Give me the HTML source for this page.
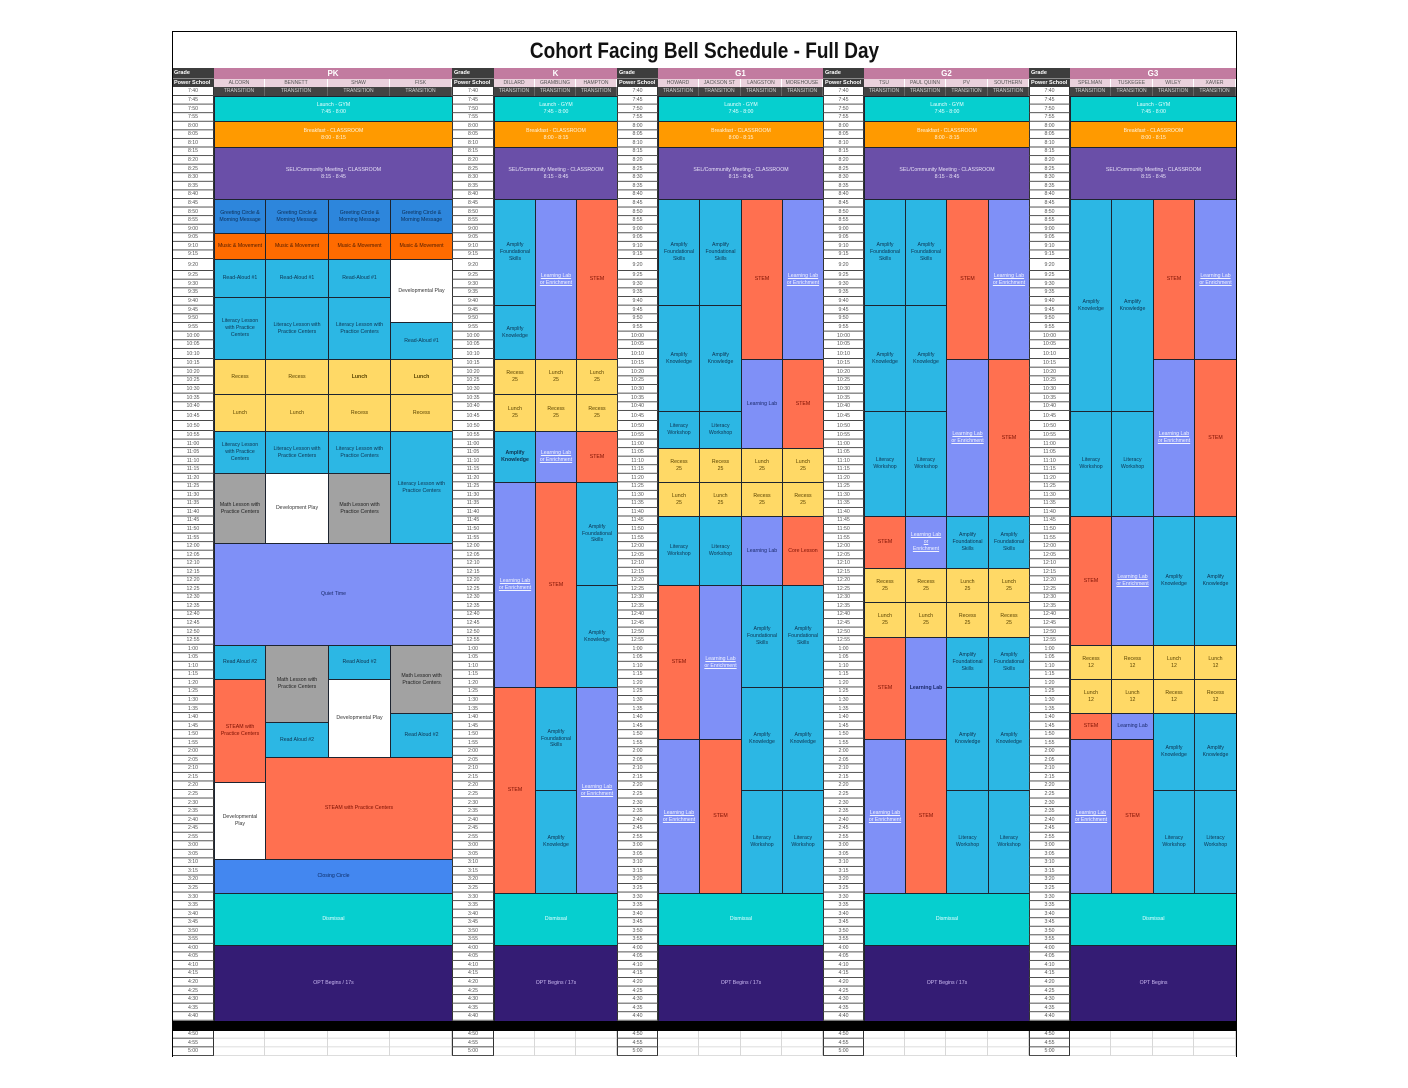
<!DOCTYPE html>
<html><head><meta charset="utf-8">
<style>
body{margin:0;background:#fff;font-family:"Liberation Sans",sans-serif}
#c{position:relative;width:1408px;height:1088px;overflow:hidden;background:#fff}
#c div{position:absolute;box-sizing:border-box}
.b{border:1px solid #1d2430;display:flex;align-items:center;justify-content:center;text-align:center;font-size:5.2px;line-height:1.3;padding:0 3px;overflow:hidden}
.cy{background:#06cfcf;color:#eaffff}
.or{background:#ff9a00;color:#fff4e0}
.pu{background:#6a4fa8;color:#e8e2f6}
.gb{background:#2d86dc;color:#0c2d55}
.mm{background:#ff6b00;color:#4a1a00}
.sb{background:#2cb7e4;color:#0e3350}
.ye{background:#ffd966;color:#5a4300}
.gr{background:#a2a2a2;color:#222}
.wh{background:#fff;color:#333}
.pw{background:#7f90f7;color:#1b2a6b}
.ll{color:#f2f4ff;text-decoration:underline}
.st{background:#ff7050;color:#7a0f00}
.cc{background:#4387f0;color:#0d2d66}
.op{background:#341c74;color:#c9b8f0}
.bd{font-weight:bold}
.nw{white-space:nowrap;padding:0}
.tc{top:0;height:1088px}
.tc>div{left:0;width:100%}
.gh{top:67.5px;height:11px;background:#3d3d3d;color:#fff;font-weight:bold;font-size:5.5px;line-height:10px;padding-left:2px;border-bottom:1px solid #8a8a8a}
.ph{top:78.5px;height:8.5px;background:#3d3d3d;color:#fff;font-weight:bold;font-size:5.5px;line-height:8.5px;padding-left:2px}
.tb{top:87px;height:969px;background:#fff;border-left:1px solid #333;border-right:1px solid #333}
.s{font-size:5.2px;color:#555;text-align:center;line-height:var(--h);background-image:linear-gradient(to bottom,transparent calc(100% - 1px),#4a4a4a calc(100% - 1px));background-size:100% var(--h)}
.gband{top:67.5px;height:11px;background:#c27ba0;color:#fff;font-weight:bold;font-size:8px;line-height:11px;text-align:center}
.cn{top:78.5px;height:8.5px;background:#ead1dc;color:#555;font-size:5px;line-height:8.5px;text-align:center;border-right:1px solid #fff;white-space:nowrap;overflow:hidden}
.trn{top:87px;height:9px;background:#434343;color:#d0d0d0;font-size:5px;line-height:9px;text-align:center;border-right:1px solid #666;white-space:nowrap;overflow:hidden}
.e{top:1030px;height:26px;border-right:1px solid #d8d8d8;background-image:linear-gradient(to bottom,transparent calc(100% - 1px),#dcdcdc calc(100% - 1px));background-size:100% 8.6667px}
</style></head><body>
<div id="c">

<div style="left:172px;top:40px;width:1065px;height:22px;font-size:22px;line-height:22px;font-weight:bold;text-align:center;color:#111;transform:scaleX(0.863);transform-origin:50% 50%;white-space:nowrap">Cohort Facing Bell Schedule - Full Day</div>

<!-- grade bands -->
<div class="gband" style="left:214px;width:238px">PK</div>
<div class="gband" style="left:494px;width:123px">K</div>
<div class="gband" style="left:658px;width:165px">G1</div>
<div class="gband" style="left:864px;width:165px">G2</div>
<div class="gband" style="left:1070px;width:166px">G3</div>

<!-- class names -->
<div class="cn" style="left:214px;width:51px">ALCORN</div>
<div class="cn" style="left:265px;width:63px">BENNETT</div>
<div class="cn" style="left:328px;width:62px">SHAW</div>
<div class="cn" style="left:390px;width:62px">FISK</div>
<div class="cn" style="left:494px;width:41px">DILLARD</div>
<div class="cn" style="left:535px;width:41px">GRAMBLING</div>
<div class="cn" style="left:576px;width:41px">HAMPTON</div>
<div class="cn" style="left:658px;width:41px">HOWARD</div>
<div class="cn" style="left:699px;width:42px">JACKSON ST</div>
<div class="cn" style="left:741px;width:41px">LANGSTON</div>
<div class="cn" style="left:782px;width:41px">MOREHOUSE</div>
<div class="cn" style="left:864px;width:41px">TSU</div>
<div class="cn" style="left:905px;width:41px">PAUL QUINN</div>
<div class="cn" style="left:946px;width:42px">PV</div>
<div class="cn" style="left:988px;width:41px">SOUTHERN</div>
<div class="cn" style="left:1070px;width:41px">SPELMAN</div>
<div class="cn" style="left:1111px;width:42px">TUSKEGEE</div>
<div class="cn" style="left:1153px;width:41px">WILEY</div>
<div class="cn" style="left:1194px;width:42px">XAVIER</div>

<!-- transition row -->
<div class="trn" style="left:214px;width:51px">TRANSITION</div>
<div class="trn" style="left:265px;width:63px">TRANSITION</div>
<div class="trn" style="left:328px;width:62px">TRANSITION</div>
<div class="trn" style="left:390px;width:62px">TRANSITION</div>
<div class="trn" style="left:494px;width:41px">TRANSITION</div>
<div class="trn" style="left:535px;width:41px">TRANSITION</div>
<div class="trn" style="left:576px;width:41px">TRANSITION</div>
<div class="trn" style="left:658px;width:41px">TRANSITION</div>
<div class="trn" style="left:699px;width:42px">TRANSITION</div>
<div class="trn" style="left:741px;width:41px">TRANSITION</div>
<div class="trn" style="left:782px;width:41px">TRANSITION</div>
<div class="trn" style="left:864px;width:41px">TRANSITION</div>
<div class="trn" style="left:905px;width:41px">TRANSITION</div>
<div class="trn" style="left:946px;width:42px">TRANSITION</div>
<div class="trn" style="left:988px;width:41px">TRANSITION</div>
<div class="trn" style="left:1070px;width:41px">TRANSITION</div>
<div class="trn" style="left:1111px;width:42px">TRANSITION</div>
<div class="trn" style="left:1153px;width:41px">TRANSITION</div>
<div class="trn" style="left:1194px;width:42px">TRANSITION</div>

<!-- shared blocks -->
<div class="b cy" style="left:214px;top:96px;width:239px;height:26px">Launch - GYM<br>7:45 - 8:00</div>
<div class="b or" style="left:214px;top:121px;width:239px;height:27px">Breakfast - CLASSROOM<br>8:00 - 8:15</div>
<div class="b pu" style="left:214px;top:147px;width:239px;height:53px">SEL/Community Meeting - CLASSROOM<br>8:15 - 8:45</div>
<div class="b cy" style="left:214px;top:893px;width:239px;height:53px">Dismissal</div>
<div class="b op" style="left:214px;top:945px;width:239px;height:77px">OPT Begins / 17s</div>

<div class="b cy" style="left:494px;top:96px;width:124px;height:26px">Launch - GYM<br>7:45 - 8:00</div>
<div class="b or" style="left:494px;top:121px;width:124px;height:27px">Breakfast - CLASSROOM<br>8:00 - 8:15</div>
<div class="b pu" style="left:494px;top:147px;width:124px;height:53px">SEL/Community Meeting - CLASSROOM<br>8:15 - 8:45</div>
<div class="b cy" style="left:494px;top:893px;width:124px;height:53px">Dismissal</div>
<div class="b op" style="left:494px;top:945px;width:124px;height:77px">OPT Begins / 17s</div>

<div class="b cy" style="left:658px;top:96px;width:166px;height:26px">Launch - GYM<br>7:45 - 8:00</div>
<div class="b or" style="left:658px;top:121px;width:166px;height:27px">Breakfast - CLASSROOM<br>8:00 - 8:15</div>
<div class="b pu" style="left:658px;top:147px;width:166px;height:53px">SEL/Community Meeting - CLASSROOM<br>8:15 - 8:45</div>
<div class="b cy" style="left:658px;top:893px;width:166px;height:53px">Dismissal</div>
<div class="b op" style="left:658px;top:945px;width:166px;height:77px">OPT Begins / 17s</div>

<div class="b cy" style="left:864px;top:96px;width:166px;height:26px">Launch - GYM<br>7:45 - 8:00</div>
<div class="b or" style="left:864px;top:121px;width:166px;height:27px">Breakfast - CLASSROOM<br>8:00 - 8:15</div>
<div class="b pu" style="left:864px;top:147px;width:166px;height:53px">SEL/Community Meeting - CLASSROOM<br>8:15 - 8:45</div>
<div class="b cy" style="left:864px;top:893px;width:166px;height:53px">Dismissal</div>
<div class="b op" style="left:864px;top:945px;width:166px;height:77px">OPT Begins / 17s</div>

<div class="b cy" style="left:1070px;top:96px;width:167px;height:26px">Launch - GYM<br>7:45 - 8:00</div>
<div class="b or" style="left:1070px;top:121px;width:167px;height:27px">Breakfast - CLASSROOM<br>8:00 - 8:15</div>
<div class="b pu" style="left:1070px;top:147px;width:167px;height:53px">SEL/Community Meeting - CLASSROOM<br>8:15 - 8:45</div>
<div class="b cy" style="left:1070px;top:893px;width:167px;height:53px">Dismissal</div>
<div class="b op" style="left:1070px;top:945px;width:167px;height:77px">OPT Begins</div>

<!-- PK -->
<div class="b gb" style="left:214px;top:199px;width:52px;height:35px">Greeting Circle &amp;<br>Morning Message</div>
<div class="b mm nw" style="left:214px;top:233px;width:52px;height:27px">Music &amp; Movement</div>
<div class="b sb" style="left:214px;top:259px;width:52px;height:39px">Read-Aloud #1</div>
<div class="b sb" style="left:214px;top:297px;width:52px;height:63px">Literacy Lesson<br>with Practice<br>Centers</div>
<div class="b ye" style="left:214px;top:359px;width:52px;height:36px">Recess</div>
<div class="b ye" style="left:214px;top:394px;width:52px;height:38px">Lunch</div>
<div class="b sb" style="left:214px;top:431px;width:52px;height:43px">Literacy Lesson<br>with Practice<br>Centers</div>
<div class="b gr" style="left:214px;top:473px;width:52px;height:71px">Math Lesson with Practice Centers</div>
<div class="b sb" style="left:214px;top:645px;width:52px;height:35px">Read Aloud #2</div>
<div class="b st" style="left:214px;top:679px;width:52px;height:104px">STEAM with<br>Practice Centers</div>
<div class="b wh" style="left:214px;top:782px;width:52px;height:78px">Developmental<br>Play</div>

<div class="b gb" style="left:265px;top:199px;width:64px;height:35px">Greeting Circle &amp;<br>Morning Message</div>
<div class="b mm" style="left:265px;top:233px;width:64px;height:27px">Music &amp; Movement</div>
<div class="b sb" style="left:265px;top:259px;width:64px;height:39px">Read-Aloud #1</div>
<div class="b sb" style="left:265px;top:297px;width:64px;height:63px">Literacy Lesson with<br>Practice Centers</div>
<div class="b ye" style="left:265px;top:359px;width:64px;height:36px">Recess</div>
<div class="b ye" style="left:265px;top:394px;width:64px;height:38px">Lunch</div>
<div class="b sb" style="left:265px;top:431px;width:64px;height:43px">Literacy Lesson with<br>Practice Centers</div>
<div class="b wh" style="left:265px;top:473px;width:64px;height:71px">Development Play</div>
<div class="b gr" style="left:265px;top:645px;width:64px;height:78px">Math Lesson with<br>Practice Centers</div>
<div class="b sb" style="left:265px;top:722px;width:64px;height:36px">Read Aloud #2</div>

<div class="b gb" style="left:328px;top:199px;width:63px;height:35px">Greeting Circle &amp;<br>Morning Message</div>
<div class="b mm" style="left:328px;top:233px;width:63px;height:27px">Music &amp; Movement</div>
<div class="b sb" style="left:328px;top:259px;width:63px;height:39px">Read-Aloud #1</div>
<div class="b sb" style="left:328px;top:297px;width:63px;height:63px">Literacy Lesson with<br>Practice Centers</div>
<div class="b ye bd" style="left:328px;top:359px;width:63px;height:36px">Lunch</div>
<div class="b ye" style="left:328px;top:394px;width:63px;height:38px">Recess</div>
<div class="b sb" style="left:328px;top:431px;width:63px;height:43px">Literacy Lesson with<br>Practice Centers</div>
<div class="b gr" style="left:328px;top:473px;width:63px;height:71px">Math Lesson with<br>Practice Centers</div>
<div class="b sb" style="left:328px;top:645px;width:63px;height:35px">Read Aloud #2</div>
<div class="b wh" style="left:328px;top:679px;width:63px;height:79px">Developmental Play</div>

<div class="b gb" style="left:390px;top:199px;width:63px;height:35px">Greeting Circle &amp;<br>Morning Message</div>
<div class="b mm" style="left:390px;top:233px;width:63px;height:27px">Music &amp; Movement</div>
<div class="b wh" style="left:390px;top:259px;width:63px;height:64px">Developmental Play</div>
<div class="b sb" style="left:390px;top:322px;width:63px;height:38px">Read-Aloud #1</div>
<div class="b ye bd" style="left:390px;top:359px;width:63px;height:36px">Lunch</div>
<div class="b ye" style="left:390px;top:394px;width:63px;height:38px">Recess</div>
<div class="b sb" style="left:390px;top:431px;width:63px;height:113px">Literacy Lesson with<br>Practice Centers</div>
<div class="b gr" style="left:390px;top:645px;width:63px;height:69px">Math Lesson with<br>Practice Centers</div>
<div class="b sb" style="left:390px;top:713px;width:63px;height:45px">Read Aloud #2</div>

<div class="b pw" style="left:214px;top:543px;width:239px;height:103px">Quiet Time</div>
<div class="b st" style="left:265px;top:757px;width:188px;height:103px">STEAM with Practice Centers</div>
<div class="b cc" style="left:214px;top:859px;width:239px;height:35px">Closing Circle</div>

<!-- K -->
<div class="b sb" style="left:494px;top:199px;width:42px;height:107px">Amplify Foundational Skills</div>
<div class="b sb" style="left:494px;top:305px;width:42px;height:55px">Amplify Knowledge</div>
<div class="b ye" style="left:494px;top:359px;width:42px;height:36px">Recess<br>25</div>
<div class="b ye" style="left:494px;top:394px;width:42px;height:38px">Lunch<br>25</div>
<div class="b sb bd" style="left:494px;top:431px;width:42px;height:52px">Amplify Knowledge</div>
<div class="b pw" style="left:494px;top:482px;width:42px;height:206px"><span class="ll">Learning Lab<br>or Enrichment</span></div>
<div class="b st" style="left:494px;top:687px;width:42px;height:207px">STEM</div>

<div class="b pw" style="left:535px;top:199px;width:42px;height:161px"><span class="ll">Learning Lab<br>or Enrichment</span></div>
<div class="b ye" style="left:535px;top:359px;width:42px;height:36px">Lunch<br>25</div>
<div class="b ye" style="left:535px;top:394px;width:42px;height:38px">Recess<br>25</div>
<div class="b pw" style="left:535px;top:431px;width:42px;height:52px"><span class="ll">Learning Lab<br>or Enrichment</span></div>
<div class="b st" style="left:535px;top:482px;width:42px;height:206px">STEM</div>
<div class="b sb" style="left:535px;top:687px;width:42px;height:104px">Amplify Foundational Skills</div>
<div class="b sb" style="left:535px;top:790px;width:42px;height:104px">Amplify Knowledge</div>

<div class="b st" style="left:576px;top:199px;width:42px;height:161px">STEM</div>
<div class="b ye" style="left:576px;top:359px;width:42px;height:36px">Lunch<br>25</div>
<div class="b ye" style="left:576px;top:394px;width:42px;height:38px">Recess<br>25</div>
<div class="b st" style="left:576px;top:431px;width:42px;height:52px">STEM</div>
<div class="b sb" style="left:576px;top:482px;width:42px;height:104px">Amplify Foundational Skills</div>
<div class="b sb" style="left:576px;top:585px;width:42px;height:103px">Amplify Knowledge</div>
<div class="b pw" style="left:576px;top:687px;width:42px;height:207px"><span class="ll">Learning Lab<br>or Enrichment</span></div>

<!-- G1 -->
<div class="b sb" style="left:658px;top:199px;width:42px;height:107px">Amplify Foundational Skills</div>
<div class="b sb" style="left:658px;top:305px;width:42px;height:107px">Amplify Knowledge</div>
<div class="b sb" style="left:658px;top:411px;width:42px;height:38px">Literacy Workshop</div>
<div class="b ye" style="left:658px;top:448px;width:42px;height:35px">Recess<br>25</div>
<div class="b ye" style="left:658px;top:482px;width:42px;height:35px">Lunch<br>25</div>
<div class="b sb" style="left:658px;top:516px;width:42px;height:70px">Literacy Workshop</div>
<div class="b st" style="left:658px;top:585px;width:42px;height:155px">STEM</div>
<div class="b pw" style="left:658px;top:739px;width:42px;height:155px"><span class="ll">Learning Lab<br>or Enrichment</span></div>

<div class="b sb" style="left:699px;top:199px;width:43px;height:107px">Amplify Foundational Skills</div>
<div class="b sb" style="left:699px;top:305px;width:43px;height:107px">Amplify Knowledge</div>
<div class="b sb" style="left:699px;top:411px;width:43px;height:38px">Literacy Workshop</div>
<div class="b ye" style="left:699px;top:448px;width:43px;height:35px">Recess<br>25</div>
<div class="b ye" style="left:699px;top:482px;width:43px;height:35px">Lunch<br>25</div>
<div class="b sb" style="left:699px;top:516px;width:43px;height:70px">Literacy Workshop</div>
<div class="b pw" style="left:699px;top:585px;width:43px;height:155px"><span class="ll">Learning Lab<br>or Enrichment</span></div>
<div class="b st" style="left:699px;top:739px;width:43px;height:155px">STEM</div>

<div class="b st" style="left:741px;top:199px;width:42px;height:161px">STEM</div>
<div class="b pw" style="left:741px;top:359px;width:42px;height:90px">Learning Lab</div>
<div class="b ye" style="left:741px;top:448px;width:42px;height:35px">Lunch<br>25</div>
<div class="b ye" style="left:741px;top:482px;width:42px;height:35px">Recess<br>25</div>
<div class="b pw" style="left:741px;top:516px;width:42px;height:70px">Learning Lab</div>
<div class="b sb" style="left:741px;top:585px;width:42px;height:103px">Amplify Foundational Skills</div>
<div class="b sb" style="left:741px;top:687px;width:42px;height:104px">Amplify Knowledge</div>
<div class="b sb" style="left:741px;top:790px;width:42px;height:104px">Literacy Workshop</div>

<div class="b pw" style="left:782px;top:199px;width:42px;height:161px"><span class="ll">Learning Lab<br>or Enrichment</span></div>
<div class="b st" style="left:782px;top:359px;width:42px;height:90px">STEM</div>
<div class="b ye" style="left:782px;top:448px;width:42px;height:35px">Lunch<br>25</div>
<div class="b ye" style="left:782px;top:482px;width:42px;height:35px">Recess<br>25</div>
<div class="b st" style="left:782px;top:516px;width:42px;height:70px">Core Lesson</div>
<div class="b sb" style="left:782px;top:585px;width:42px;height:103px">Amplify Foundational Skills</div>
<div class="b sb" style="left:782px;top:687px;width:42px;height:104px">Amplify Knowledge</div>
<div class="b sb" style="left:782px;top:790px;width:42px;height:104px">Literacy Workshop</div>

<!-- G2 -->
<div class="b sb" style="left:864px;top:199px;width:42px;height:107px">Amplify Foundational Skills</div>
<div class="b sb" style="left:864px;top:305px;width:42px;height:107px">Amplify Knowledge</div>
<div class="b sb" style="left:864px;top:411px;width:42px;height:106px">Literacy Workshop</div>
<div class="b st" style="left:864px;top:516px;width:42px;height:53px">STEM</div>
<div class="b ye" style="left:864px;top:568px;width:42px;height:35px">Recess<br>25</div>
<div class="b ye" style="left:864px;top:602px;width:42px;height:36px">Lunch<br>25</div>
<div class="b st" style="left:864px;top:637px;width:42px;height:103px">STEM</div>
<div class="b pw" style="left:864px;top:739px;width:42px;height:155px"><span class="ll">Learning Lab<br>or Enrichment</span></div>

<div class="b sb" style="left:905px;top:199px;width:42px;height:107px">Amplify Foundational Skills</div>
<div class="b sb" style="left:905px;top:305px;width:42px;height:107px">Amplify Knowledge</div>
<div class="b sb" style="left:905px;top:411px;width:42px;height:106px">Literacy Workshop</div>
<div class="b pw" style="left:905px;top:516px;width:42px;height:53px"><span class="ll">Learning Lab or<br>Enrichment</span></div>
<div class="b ye" style="left:905px;top:568px;width:42px;height:35px">Recess<br>25</div>
<div class="b ye" style="left:905px;top:602px;width:42px;height:36px">Lunch<br>25</div>
<div class="b pw bd" style="left:905px;top:637px;width:42px;height:103px">Learning Lab</div>
<div class="b st" style="left:905px;top:739px;width:42px;height:155px">STEM</div>

<div class="b st" style="left:946px;top:199px;width:43px;height:161px">STEM</div>
<div class="b pw" style="left:946px;top:359px;width:43px;height:158px"><span class="ll">Learning Lab<br>or Enrichment</span></div>
<div class="b sb" style="left:946px;top:516px;width:43px;height:53px">Amplify Foundational Skills</div>
<div class="b ye" style="left:946px;top:568px;width:43px;height:35px">Lunch<br>25</div>
<div class="b ye" style="left:946px;top:602px;width:43px;height:36px">Recess<br>25</div>
<div class="b sb" style="left:946px;top:637px;width:43px;height:51px">Amplify Foundational Skills</div>
<div class="b sb" style="left:946px;top:687px;width:43px;height:104px">Amplify Knowledge</div>
<div class="b sb" style="left:946px;top:790px;width:43px;height:104px">Literacy Workshop</div>

<div class="b pw" style="left:988px;top:199px;width:42px;height:161px"><span class="ll">Learning Lab<br>or Enrichment</span></div>
<div class="b st" style="left:988px;top:359px;width:42px;height:158px">STEM</div>
<div class="b sb" style="left:988px;top:516px;width:42px;height:53px">Amplify Foundational Skills</div>
<div class="b ye" style="left:988px;top:568px;width:42px;height:35px">Lunch<br>25</div>
<div class="b ye" style="left:988px;top:602px;width:42px;height:36px">Recess<br>25</div>
<div class="b sb" style="left:988px;top:637px;width:42px;height:51px">Amplify Foundational Skills</div>
<div class="b sb" style="left:988px;top:687px;width:42px;height:104px">Amplify Knowledge</div>
<div class="b sb" style="left:988px;top:790px;width:42px;height:104px">Literacy Workshop</div>

<!-- G3 -->
<div class="b sb" style="left:1070px;top:199px;width:42px;height:213px">Amplify Knowledge</div>
<div class="b sb" style="left:1070px;top:411px;width:42px;height:106px">Literacy Workshop</div>
<div class="b st" style="left:1070px;top:516px;width:42px;height:130px">STEM</div>
<div class="b ye" style="left:1070px;top:645px;width:42px;height:35px">Recess<br>12</div>
<div class="b ye" style="left:1070px;top:679px;width:42px;height:35px">Lunch<br>12</div>
<div class="b st" style="left:1070px;top:713px;width:42px;height:27px">STEM</div>
<div class="b pw" style="left:1070px;top:739px;width:42px;height:155px"><span class="ll">Learning Lab<br>or Enrichment</span></div>

<div class="b sb" style="left:1111px;top:199px;width:43px;height:213px">Amplify Knowledge</div>
<div class="b sb" style="left:1111px;top:411px;width:43px;height:106px">Literacy Workshop</div>
<div class="b pw" style="left:1111px;top:516px;width:43px;height:130px"><span class="ll">Learning Lab<br>or Enrichment</span></div>
<div class="b ye" style="left:1111px;top:645px;width:43px;height:35px">Recess<br>12</div>
<div class="b ye" style="left:1111px;top:679px;width:43px;height:35px">Lunch<br>12</div>
<div class="b pw" style="left:1111px;top:713px;width:43px;height:27px">Learning Lab</div>
<div class="b st" style="left:1111px;top:739px;width:43px;height:155px">STEM</div>

<div class="b st" style="left:1153px;top:199px;width:42px;height:161px">STEM</div>
<div class="b pw" style="left:1153px;top:359px;width:42px;height:158px"><span class="ll">Learning Lab<br>or Enrichment</span></div>
<div class="b sb" style="left:1153px;top:516px;width:42px;height:130px">Amplify Knowledge</div>
<div class="b ye" style="left:1153px;top:645px;width:42px;height:35px">Lunch<br>12</div>
<div class="b ye" style="left:1153px;top:679px;width:42px;height:35px">Recess<br>12</div>
<div class="b sb" style="left:1153px;top:713px;width:42px;height:78px">Amplify Knowledge</div>
<div class="b sb" style="left:1153px;top:790px;width:42px;height:104px">Literacy Workshop</div>

<div class="b pw" style="left:1194px;top:199px;width:43px;height:161px"><span class="ll">Learning Lab<br>or Enrichment</span></div>
<div class="b st" style="left:1194px;top:359px;width:43px;height:158px">STEM</div>
<div class="b sb" style="left:1194px;top:516px;width:43px;height:130px">Amplify Knowledge</div>
<div class="b ye" style="left:1194px;top:645px;width:43px;height:35px">Lunch<br>12</div>
<div class="b ye" style="left:1194px;top:679px;width:43px;height:35px">Recess<br>12</div>
<div class="b sb" style="left:1194px;top:713px;width:43px;height:78px">Amplify Knowledge</div>
<div class="b sb" style="left:1194px;top:790px;width:43px;height:104px">Literacy Workshop</div>

<!-- bottom empty grid -->
<div class="e" style="left:214px;width:51px"></div>
<div class="e" style="left:265px;width:63px"></div>
<div class="e" style="left:328px;width:62px"></div>
<div class="e" style="left:390px;width:62px"></div>
<div class="e" style="left:494px;width:41px"></div>
<div class="e" style="left:535px;width:41px"></div>
<div class="e" style="left:576px;width:41px"></div>
<div class="e" style="left:658px;width:41px"></div>
<div class="e" style="left:699px;width:42px"></div>
<div class="e" style="left:741px;width:41px"></div>
<div class="e" style="left:782px;width:41px"></div>
<div class="e" style="left:864px;width:41px"></div>
<div class="e" style="left:905px;width:41px"></div>
<div class="e" style="left:946px;width:42px"></div>
<div class="e" style="left:988px;width:41px"></div>
<div class="e" style="left:1070px;width:41px"></div>
<div class="e" style="left:1111px;width:42px"></div>
<div class="e" style="left:1153px;width:41px"></div>
<div class="e" style="left:1194px;width:42px"></div>

<!-- time columns -->
<div class="tc" style="left:172px;width:42px">
<div class="gh">Grade</div><div class="ph">Power School</div><div class="tb"></div>
<div class="s" style="top:87px;height:9px;--h:9px">7:40</div>
<div class="s" style="top:96px;height:163px;--h:8.5789px">7:45<br>7:50<br>7:55<br>8:00<br>8:05<br>8:10<br>8:15<br>8:20<br>8:25<br>8:30<br>8:35<br>8:40<br>8:45<br>8:50<br>8:55<br>9:00<br>9:05<br>9:10<br>9:15</div>
<div class="s" style="top:259px;height:12px;--h:12px">9:20</div>
<div class="s" style="top:271px;height:78px;--h:8.6667px">9:25<br>9:30<br>9:35<br>9:40<br>9:45<br>9:50<br>9:55<br>10:00<br>10:05</div>
<div class="s" style="top:349px;height:10px;--h:10px">10:10</div>
<div class="s" style="top:359px;height:52px;--h:8.6667px">10:15<br>10:20<br>10:25<br>10:30<br>10:35<br>10:40</div>
<div class="s" style="top:411px;height:20px;--h:10px">10:45<br>10:50</div>
<div class="s" style="top:431px;height:590px;--h:8.5507px">10:55<br>11:00<br>11:05<br>11:10<br>11:15<br>11:20<br>11:25<br>11:30<br>11:35<br>11:40<br>11:45<br>11:50<br>11:55<br>12:00<br>12:05<br>12:10<br>12:15<br>12:20<br>12:25<br>12:30<br>12:35<br>12:40<br>12:45<br>12:50<br>12:55<br>1:00<br>1:05<br>1:10<br>1:15<br>1:20<br>1:25<br>1:30<br>1:35<br>1:40<br>1:45<br>1:50<br>1:55<br>2:00<br>2:05<br>2:10<br>2:15<br>2:20<br>2:25<br>2:30<br>2:35<br>2:40<br>2:45<br>2:55<br>3:00<br>3:05<br>3:10<br>3:15<br>3:20<br>3:25<br>3:30<br>3:35<br>3:40<br>3:45<br>3:50<br>3:55<br>4:00<br>4:05<br>4:10<br>4:15<br>4:20<br>4:25<br>4:30<br>4:35<br>4:40</div>
<div class="s" style="top:1030px;height:26px;--h:8.6667px">4:50<br>4:55<br>5:00</div>
</div>

<div class="tc" style="left:452px;width:42px">
<div class="gh">Grade</div><div class="ph">Power School</div><div class="tb"></div>
<div class="s" style="top:87px;height:9px;--h:9px">7:40</div>
<div class="s" style="top:96px;height:163px;--h:8.5789px">7:45<br>7:50<br>7:55<br>8:00<br>8:05<br>8:10<br>8:15<br>8:20<br>8:25<br>8:30<br>8:35<br>8:40<br>8:45<br>8:50<br>8:55<br>9:00<br>9:05<br>9:10<br>9:15</div>
<div class="s" style="top:259px;height:12px;--h:12px">9:20</div>
<div class="s" style="top:271px;height:78px;--h:8.6667px">9:25<br>9:30<br>9:35<br>9:40<br>9:45<br>9:50<br>9:55<br>10:00<br>10:05</div>
<div class="s" style="top:349px;height:10px;--h:10px">10:10</div>
<div class="s" style="top:359px;height:52px;--h:8.6667px">10:15<br>10:20<br>10:25<br>10:30<br>10:35<br>10:40</div>
<div class="s" style="top:411px;height:20px;--h:10px">10:45<br>10:50</div>
<div class="s" style="top:431px;height:590px;--h:8.5507px">10:55<br>11:00<br>11:05<br>11:10<br>11:15<br>11:20<br>11:25<br>11:30<br>11:35<br>11:40<br>11:45<br>11:50<br>11:55<br>12:00<br>12:05<br>12:10<br>12:15<br>12:20<br>12:25<br>12:30<br>12:35<br>12:40<br>12:45<br>12:50<br>12:55<br>1:00<br>1:05<br>1:10<br>1:15<br>1:20<br>1:25<br>1:30<br>1:35<br>1:40<br>1:45<br>1:50<br>1:55<br>2:00<br>2:05<br>2:10<br>2:15<br>2:20<br>2:25<br>2:30<br>2:35<br>2:40<br>2:45<br>2:55<br>3:00<br>3:05<br>3:10<br>3:15<br>3:20<br>3:25<br>3:30<br>3:35<br>3:40<br>3:45<br>3:50<br>3:55<br>4:00<br>4:05<br>4:10<br>4:15<br>4:20<br>4:25<br>4:30<br>4:35<br>4:40</div>
<div class="s" style="top:1030px;height:26px;--h:8.6667px">4:50<br>4:55<br>5:00</div>
</div>

<div class="tc" style="left:617px;width:41px">
<div class="gh">Grade</div><div class="ph">Power School</div><div class="tb"></div>
<div class="s" style="top:87px;height:9px;--h:9px">7:40</div>
<div class="s" style="top:96px;height:163px;--h:8.5789px">7:45<br>7:50<br>7:55<br>8:00<br>8:05<br>8:10<br>8:15<br>8:20<br>8:25<br>8:30<br>8:35<br>8:40<br>8:45<br>8:50<br>8:55<br>9:00<br>9:05<br>9:10<br>9:15</div>
<div class="s" style="top:259px;height:12px;--h:12px">9:20</div>
<div class="s" style="top:271px;height:78px;--h:8.6667px">9:25<br>9:30<br>9:35<br>9:40<br>9:45<br>9:50<br>9:55<br>10:00<br>10:05</div>
<div class="s" style="top:349px;height:10px;--h:10px">10:10</div>
<div class="s" style="top:359px;height:52px;--h:8.6667px">10:15<br>10:20<br>10:25<br>10:30<br>10:35<br>10:40</div>
<div class="s" style="top:411px;height:20px;--h:10px">10:45<br>10:50</div>
<div class="s" style="top:431px;height:590px;--h:8.5507px">10:55<br>11:00<br>11:05<br>11:10<br>11:15<br>11:20<br>11:25<br>11:30<br>11:35<br>11:40<br>11:45<br>11:50<br>11:55<br>12:00<br>12:05<br>12:10<br>12:15<br>12:20<br>12:25<br>12:30<br>12:35<br>12:40<br>12:45<br>12:50<br>12:55<br>1:00<br>1:05<br>1:10<br>1:15<br>1:20<br>1:25<br>1:30<br>1:35<br>1:40<br>1:45<br>1:50<br>1:55<br>2:00<br>2:05<br>2:10<br>2:15<br>2:20<br>2:25<br>2:30<br>2:35<br>2:40<br>2:45<br>2:55<br>3:00<br>3:05<br>3:10<br>3:15<br>3:20<br>3:25<br>3:30<br>3:35<br>3:40<br>3:45<br>3:50<br>3:55<br>4:00<br>4:05<br>4:10<br>4:15<br>4:20<br>4:25<br>4:30<br>4:35<br>4:40</div>
<div class="s" style="top:1030px;height:26px;--h:8.6667px">4:50<br>4:55<br>5:00</div>
</div>

<div class="tc" style="left:823px;width:41px">
<div class="gh">Grade</div><div class="ph">Power School</div><div class="tb"></div>
<div class="s" style="top:87px;height:9px;--h:9px">7:40</div>
<div class="s" style="top:96px;height:163px;--h:8.5789px">7:45<br>7:50<br>7:55<br>8:00<br>8:05<br>8:10<br>8:15<br>8:20<br>8:25<br>8:30<br>8:35<br>8:40<br>8:45<br>8:50<br>8:55<br>9:00<br>9:05<br>9:10<br>9:15</div>
<div class="s" style="top:259px;height:12px;--h:12px">9:20</div>
<div class="s" style="top:271px;height:78px;--h:8.6667px">9:25<br>9:30<br>9:35<br>9:40<br>9:45<br>9:50<br>9:55<br>10:00<br>10:05</div>
<div class="s" style="top:349px;height:10px;--h:10px">10:10</div>
<div class="s" style="top:359px;height:52px;--h:8.6667px">10:15<br>10:20<br>10:25<br>10:30<br>10:35<br>10:40</div>
<div class="s" style="top:411px;height:20px;--h:10px">10:45<br>10:50</div>
<div class="s" style="top:431px;height:590px;--h:8.5507px">10:55<br>11:00<br>11:05<br>11:10<br>11:15<br>11:20<br>11:25<br>11:30<br>11:35<br>11:40<br>11:45<br>11:50<br>11:55<br>12:00<br>12:05<br>12:10<br>12:15<br>12:20<br>12:25<br>12:30<br>12:35<br>12:40<br>12:45<br>12:50<br>12:55<br>1:00<br>1:05<br>1:10<br>1:15<br>1:20<br>1:25<br>1:30<br>1:35<br>1:40<br>1:45<br>1:50<br>1:55<br>2:00<br>2:05<br>2:10<br>2:15<br>2:20<br>2:25<br>2:30<br>2:35<br>2:40<br>2:45<br>2:55<br>3:00<br>3:05<br>3:10<br>3:15<br>3:20<br>3:25<br>3:30<br>3:35<br>3:40<br>3:45<br>3:50<br>3:55<br>4:00<br>4:05<br>4:10<br>4:15<br>4:20<br>4:25<br>4:30<br>4:35<br>4:40</div>
<div class="s" style="top:1030px;height:26px;--h:8.6667px">4:50<br>4:55<br>5:00</div>
</div>

<div class="tc" style="left:1029px;width:41px">
<div class="gh">Grade</div><div class="ph">Power School</div><div class="tb"></div>
<div class="s" style="top:87px;height:9px;--h:9px">7:40</div>
<div class="s" style="top:96px;height:163px;--h:8.5789px">7:45<br>7:50<br>7:55<br>8:00<br>8:05<br>8:10<br>8:15<br>8:20<br>8:25<br>8:30<br>8:35<br>8:40<br>8:45<br>8:50<br>8:55<br>9:00<br>9:05<br>9:10<br>9:15</div>
<div class="s" style="top:259px;height:12px;--h:12px">9:20</div>
<div class="s" style="top:271px;height:78px;--h:8.6667px">9:25<br>9:30<br>9:35<br>9:40<br>9:45<br>9:50<br>9:55<br>10:00<br>10:05</div>
<div class="s" style="top:349px;height:10px;--h:10px">10:10</div>
<div class="s" style="top:359px;height:52px;--h:8.6667px">10:15<br>10:20<br>10:25<br>10:30<br>10:35<br>10:40</div>
<div class="s" style="top:411px;height:20px;--h:10px">10:45<br>10:50</div>
<div class="s" style="top:431px;height:590px;--h:8.5507px">10:55<br>11:00<br>11:05<br>11:10<br>11:15<br>11:20<br>11:25<br>11:30<br>11:35<br>11:40<br>11:45<br>11:50<br>11:55<br>12:00<br>12:05<br>12:10<br>12:15<br>12:20<br>12:25<br>12:30<br>12:35<br>12:40<br>12:45<br>12:50<br>12:55<br>1:00<br>1:05<br>1:10<br>1:15<br>1:20<br>1:25<br>1:30<br>1:35<br>1:40<br>1:45<br>1:50<br>1:55<br>2:00<br>2:05<br>2:10<br>2:15<br>2:20<br>2:25<br>2:30<br>2:35<br>2:40<br>2:45<br>2:55<br>3:00<br>3:05<br>3:10<br>3:15<br>3:20<br>3:25<br>3:30<br>3:35<br>3:40<br>3:45<br>3:50<br>3:55<br>4:00<br>4:05<br>4:10<br>4:15<br>4:20<br>4:25<br>4:30<br>4:35<br>4:40</div>
<div class="s" style="top:1030px;height:26px;--h:8.6667px">4:50<br>4:55<br>5:00</div>
</div>

<!-- black separator bar -->
<div style="left:172px;top:1021px;width:1065px;height:9.5px;background:#000"></div>

<!-- outer border -->
<div style="left:172px;top:31px;width:1065px;height:1026px;border:1px solid #000;border-bottom:none"></div>

</div>
</body></html>
